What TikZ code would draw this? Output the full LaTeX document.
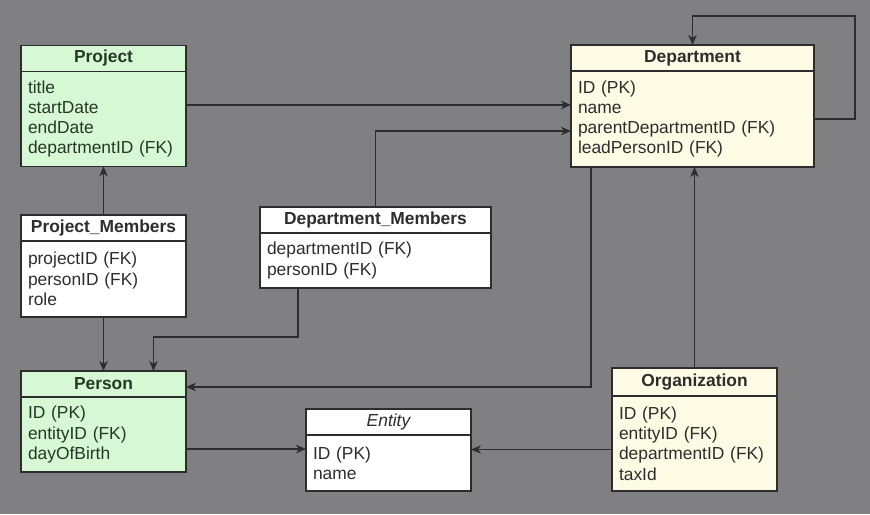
\documentclass[tikz,border=0pt]{standalone}
\usepackage{fontspec}
\setmainfont{Liberation Sans}
\usetikzlibrary{positioning,arrows.meta}
\definecolor{bggray}{RGB}{128,127,130}
\definecolor{boxline}{RGB}{45,45,45}
\definecolor{mint}{RGB}{214,248,212}
\definecolor{cream}{RGB}{253,251,228}
\definecolor{inkgreen}{RGB}{38,56,38}
\definecolor{inkgray}{RGB}{45,45,45}
\tikzset{
  hdr/.style={draw=boxline, line width=1.2pt, minimum height=26pt, inner sep=0pt, outer sep=0pt,
    font=\fontsize{17.4}{20.3}\selectfont\bfseries},
  attrs/.style={draw=boxline, line width=1.2pt, align=left, inner xsep=7pt, inner ysep=0pt, outer sep=0pt,
    font=\fontsize{17.4}{20.3}\selectfont},
  fk/.style={draw=boxline, line width=1.2pt, -{Stealth[length=10pt,width=8.5pt,inset=3pt]}}
}
\begin{document}
\begin{tikzpicture}[x=1pt,y=-1pt]
    \fill [bggray] (0,0) rectangle (870,514);
    \useasboundingbox (0,0) rectangle (870,514);
    % tables
    \node [hdr, fill=mint, text=inkgreen, minimum width=165pt] (projH) at (103.5,58.5) {Project};
    \node [attrs, fill=mint, text=inkgreen, text width=151pt, minimum height=95pt, below=0pt of projH] (projB)
        {title\\startDate\\endDate\\departmentID (FK)};
    \node [hdr, fill=cream, text=inkgray, minimum width=243pt] (deptH) at (692.5,58) {Department};
    \node [attrs, fill=cream, text=inkgray, text width=229pt, minimum height=96pt, below=0pt of deptH] (deptB)
        {ID (PK)\\name\\parentDepartmentID (FK)\\leadPersonID (FK)};
    \node [hdr, fill=white, text=inkgray, minimum width=165pt] (pmH) at (103.5,228) {Project\_Members};
    \node [attrs, fill=white, text=inkgray, text width=151pt, minimum height=76pt, below=0pt of pmH] (pmB)
        {projectID (FK)\\personID (FK)\\role};
    \node [hdr, fill=white, text=inkgray, minimum width=231pt] (dmH) at (375.5,220) {Department\_Members};
    \node [attrs, fill=white, text=inkgray, text width=217pt, minimum height=55pt, below=0pt of dmH] (dmB)
        {departmentID (FK)\\personID (FK)};
    \node [hdr, fill=mint, text=inkgreen, minimum width=165pt] (personH) at (103.5,384) {Person};
    \node [attrs, fill=mint, text=inkgreen, text width=151pt, minimum height=75pt, below=0pt of personH] (personB)
        {ID (PK)\\entityID (FK)\\dayOfBirth};
    \node [hdr, fill=white, text=inkgray, minimum width=165pt, font=\fontsize{17.4}{20.3}\selectfont\itshape] (entH) at (388.5,422) {Entity};
    \node [attrs, fill=white, text=inkgray, text width=151pt, minimum height=56pt, below=0pt of entH] (entB)
        {ID (PK)\\name};
    \node [hdr, fill=cream, text=inkgray, minimum width=165pt, minimum height=28pt] (orgH) at (694.5,382) {Organization};
    \node [attrs, fill=cream, text=inkgray, text width=151pt, minimum height=95pt, below=0pt of orgH] (orgB)
        {ID (PK)\\entityID (FK)\\departmentID (FK)\\taxId};
    % foreign keys
    \draw [fk] ([yshift=14pt]projB.east) -- ([yshift=14pt]projB.east -| deptB.west);
    \draw [fk] (dmH.north) |- ([yshift=-12pt]deptB.west);
    \draw [fk] (deptB.east) -- ++(41,0) |- ([yshift=29pt]deptH.north) -- (deptH.north);
    \draw [fk] ([xshift=20pt]deptB.south west) |- ([yshift=-3pt]personH.east);
    \draw [fk] (orgH.north) -- (orgH.north |- deptB.south);
    \draw [fk] ([yshift=-6pt]orgB.west) -- ([yshift=-6pt]orgB.west -| entB.east);
    \draw [fk] ([yshift=-14.5pt]personB.east) -- ([yshift=-14.5pt]personB.east -| entB.west);
    \draw [fk] (pmH.north) -- (projB.south);
    \draw [fk] (pmB.south) -- (personH.north);
    \draw [fk] ([xshift=38pt]dmB.south west) -- ++(0,49) -| ([xshift=50pt]personH.north);
\end{tikzpicture}
\end{document}
